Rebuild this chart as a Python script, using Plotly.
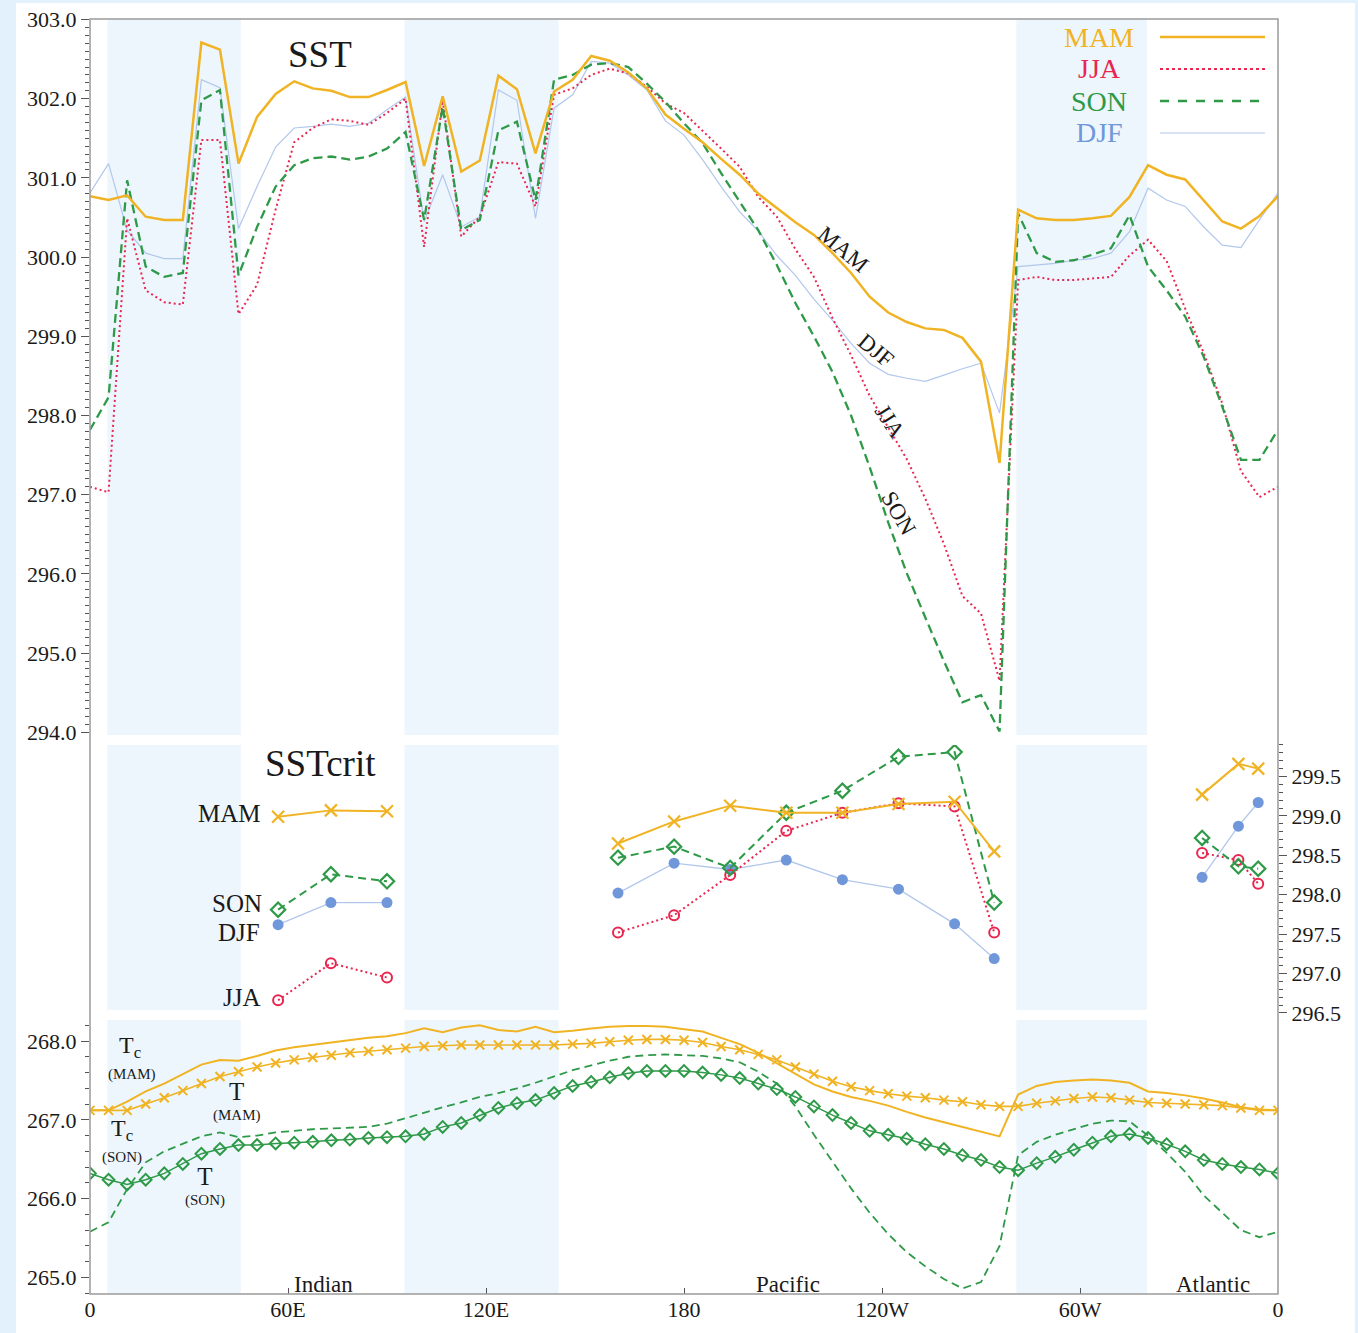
import plotly.graph_objects as go

# ---- longitude grid (degrees east, 0..360) ----
lon = [i * 5.625 for i in range(65)]

# ---- SST by season (K) ----
sst_mam = [300.77, 300.72, 300.78, 300.51, 300.47, 300.47, 302.71, 302.62, 301.18, 301.77,
           302.06, 302.22, 302.13, 302.10, 302.02, 302.02, 302.11, 302.21, 301.15, 302.03,
           301.08, 301.22, 302.29, 302.12, 301.31, 302.09, 302.24, 302.54, 302.48, 302.33,
           302.13, 301.80, 301.62, 301.45, 301.24, 301.04, 300.80, 300.62, 300.44, 300.28,
           300.05, 299.80, 299.50, 299.30, 299.18, 299.10, 299.08, 298.98, 298.68, 297.40,
           300.60, 300.49, 300.47, 300.47, 300.49, 300.52, 300.76, 301.16, 301.04, 300.98,
           300.72, 300.45, 300.36, 300.52, 300.77]
sst_jja = [297.10, 297.03, 300.49, 299.58, 299.43, 299.40, 301.48, 301.48, 299.28, 299.65,
           300.60, 301.45, 301.63, 301.74, 301.72, 301.67, 301.82, 302.00, 300.13, 301.98,
           300.26, 300.51, 301.20, 301.18, 300.64, 302.05, 302.13, 302.30, 302.38, 302.32,
           302.15, 301.94, 301.82, 301.60, 301.37, 301.14, 300.76, 300.51, 300.10, 299.75,
           299.23, 298.76, 298.25, 297.85, 297.45, 296.95, 296.38, 295.72, 295.50, 294.65,
           299.71, 299.75, 299.71, 299.71, 299.73, 299.75, 300.02, 300.22, 299.95, 299.35,
           298.79, 298.15, 297.30, 296.97, 297.10]
sst_son = [297.82, 298.23, 300.97, 299.88, 299.75, 299.80, 301.98, 302.11, 299.77, 300.38,
           300.89, 301.16, 301.25, 301.27, 301.23, 301.27, 301.37, 301.58, 300.47, 301.90,
           300.34, 300.47, 301.60, 301.71, 300.72, 302.24, 302.30, 302.43, 302.45, 302.40,
           302.19, 301.96, 301.69, 301.44, 301.06, 300.70, 300.34, 299.90, 299.42, 299.00,
           298.55, 298.00, 297.35, 296.65, 296.01, 295.45, 294.90, 294.38, 294.47, 294.01,
           300.55, 300.05, 299.94, 299.96, 300.03, 300.11, 300.53, 299.88, 299.58, 299.25,
           298.74, 298.11, 297.44, 297.44, 297.82]
sst_djf = [300.81, 301.18, 300.34, 300.05, 299.98, 299.98, 302.24, 302.14, 300.36, 300.89,
           301.39, 301.63, 301.65, 301.68, 301.65, 301.69, 301.86, 302.02, 300.45, 301.04,
           300.38, 300.51, 302.11, 301.98, 300.49, 301.88, 302.05, 302.47, 302.45, 302.30,
           302.11, 301.72, 301.54, 301.23, 300.89, 300.57, 300.33, 300.02, 299.77, 299.47,
           299.20, 298.91, 298.66, 298.52, 298.47, 298.43, 298.51, 298.59, 298.66, 298.03,
           299.88, 299.90, 299.92, 299.96, 299.98, 300.05, 300.32, 300.87, 300.72, 300.64,
           300.38, 300.15, 300.12, 300.47, 300.81]

# ---- critical SST at selected longitudes (K) ----
crit_lon_ind = [57, 73, 90]
crit_lon_pac = [160, 177, 194, 211, 228, 245, 262, 274]
crit_lon_atl = [337, 348, 354]

crit_mam_ind = [298.99, 299.07, 299.06]
crit_son_ind = [297.81, 298.26, 298.17]
crit_djf_ind = [297.62, 297.90, 297.90]
crit_jja_ind = [296.66, 297.13, 296.95]

crit_mam_pac = [298.65, 298.93, 299.13, 299.04, 299.04, 299.15, 299.18, 298.55]
crit_son_pac = [298.47, 298.61, 298.34, 299.04, 299.32, 299.75, 299.81, 297.90]
crit_djf_pac = [298.02, 298.40, 298.32, 298.44, 298.19, 298.07, 297.63, 297.19]
crit_jja_pac = [297.52, 297.74, 298.25, 298.81, 299.04, 299.16, 299.12, 297.52]

crit_mam_atl = [299.27, 299.66, 299.60]
crit_son_atl = [298.72, 298.36, 298.33]
crit_djf_atl = [298.22, 298.87, 299.17]
crit_jja_atl = [298.53, 298.44, 298.14]

# ---- temperature T and critical temperature Tc (K) ----
t_mam = [267.12, 267.12, 267.12, 267.20, 267.28, 267.37, 267.46, 267.55, 267.61, 267.67,
         267.72, 267.76, 267.79, 267.82, 267.85, 267.87, 267.89, 267.91, 267.93, 267.94,
         267.95, 267.95, 267.95, 267.95, 267.95, 267.95, 267.96, 267.97, 267.99, 268.01,
         268.02, 268.02, 268.01, 267.98, 267.93, 267.89, 267.83, 267.76, 267.67, 267.58,
         267.49, 267.42, 267.37, 267.33, 267.30, 267.28, 267.25, 267.23, 267.19, 267.17,
         267.17, 267.21, 267.24, 267.27, 267.29, 267.28, 267.25, 267.22, 267.21, 267.20,
         267.19, 267.18, 267.15, 267.12, 267.12]
tc_mam = [267.12, 267.12, 267.23, 267.36, 267.46, 267.58, 267.70, 267.76, 267.75, 267.81,
          267.88, 267.92, 267.95, 267.98, 268.01, 268.04, 268.06, 268.10, 268.16, 268.11,
          268.17, 268.20, 268.14, 268.12, 268.18, 268.11, 268.13, 268.16, 268.18, 268.19,
          268.19, 268.18, 268.15, 268.12, 268.04, 267.96, 267.85, 267.72, 267.58, 267.45,
          267.36, 267.29, 267.24, 267.18, 267.10, 267.03, 266.97, 266.91, 266.85, 266.79,
          267.32, 267.43, 267.48, 267.50, 267.51, 267.50, 267.47, 267.36, 267.34, 267.31,
          267.27, 267.22, 267.16, 267.13, 267.12]
t_son = [266.32, 266.24, 266.18, 266.24, 266.32, 266.44, 266.57, 266.63, 266.68, 266.68,
         266.70, 266.71, 266.72, 266.74, 266.75, 266.77, 266.78, 266.79, 266.82, 266.91,
         266.96, 267.06, 267.15, 267.21, 267.25, 267.34, 267.43, 267.48, 267.54, 267.59,
         267.62, 267.62, 267.62, 267.60, 267.57, 267.53, 267.46, 267.39, 267.29, 267.17,
         267.06, 266.96, 266.86, 266.81, 266.76, 266.69, 266.63, 266.55, 266.49, 266.40,
         266.36, 266.45, 266.53, 266.62, 266.71, 266.79, 266.82, 266.77, 266.69, 266.60,
         266.49, 266.44, 266.40, 266.37, 266.32]
tc_son = [265.58, 265.70, 266.12, 266.46, 266.60, 266.70, 266.79, 266.84, 266.78, 266.80,
          266.84, 266.86, 266.88, 266.89, 266.90, 266.91, 266.95, 267.02, 267.09, 267.16,
          267.22, 267.29, 267.34, 267.40, 267.47, 267.55, 267.63, 267.69, 267.75, 267.80,
          267.82, 267.83, 267.82, 267.81, 267.78, 267.73, 267.61, 267.46, 267.17, 266.81,
          266.47, 266.13, 265.82, 265.55, 265.32, 265.14, 264.98, 264.86, 264.94, 265.40,
          266.55, 266.72, 266.81, 266.88, 266.95, 266.99, 266.98, 266.80, 266.58, 266.34,
          266.04, 265.82, 265.60, 265.51, 265.58]

# ---- axis ticks ----
x_tickvals = [0, 60, 120, 180, 240, 300, 360]
x_ticktext = ["0", "60E", "120E", "180", "120W", "60W", "0"]
sst_ticks = [294, 295, 296, 297, 298, 299, 300, 301, 302, 303]
crit_ticks = [296.5, 297.0, 297.5, 298.0, 298.5, 299.0, 299.5]
t_ticks = [265, 266, 267, 268]

# shaded longitude bands
bands = [(5.25, 45.7), (95.3, 142.0), (280.7, 320.3)]

MAM_C = "#F0B323"
JJA_C = "#E8264F"
SON_C = "#2E9A48"
DJF_LINE = "#B2C7EC"
DJF_MARK = "#6F97D9"
SHADE = "#EEF6FD"
SERIF = "Liberation Serif"
INK = "#1A1A1A"

W, H = 1358, 1333
ML, MR, MT, MB = 90, 80, 19, 39
PW, PH = W - ML - MR, H - MT - MB


def fx(p):
    return (p - ML) / PW


def fy(p):
    return (H - MB - p) / PH


def joined(*parts):
    out = []
    for k, part in enumerate(parts):
        if k:
            out.append(None)
        out.extend(part)
    return out


fig = go.Figure()

# ---- top panel: SST ----
fig.add_trace(go.Scatter(x=lon, y=sst_djf, mode="lines", yaxis="y",
                         line=dict(color=DJF_LINE, width=1.2)))
fig.add_trace(go.Scatter(x=lon, y=sst_jja, mode="lines", yaxis="y",
                         line=dict(color=JJA_C, width=2, dash="2px,3px")))
fig.add_trace(go.Scatter(x=lon, y=sst_son, mode="lines", yaxis="y",
                         line=dict(color=SON_C, width=2.3, dash="9px,5px")))
fig.add_trace(go.Scatter(x=lon, y=sst_mam, mode="lines", yaxis="y",
                         line=dict(color=MAM_C, width=2.5)))

# ---- middle panel: critical SST ----
crit_x = joined(crit_lon_ind, crit_lon_pac, crit_lon_atl)
fig.add_trace(go.Scatter(x=crit_x, y=joined(crit_djf_ind, crit_djf_pac, crit_djf_atl),
                         mode="lines+markers", yaxis="y2", connectgaps=False,
                         line=dict(color=DJF_LINE, width=1.3),
                         marker=dict(symbol="circle", size=11, color=DJF_MARK)))
fig.add_trace(go.Scatter(x=crit_x, y=joined(crit_jja_ind, crit_jja_pac, crit_jja_atl),
                         mode="lines+markers", yaxis="y2", connectgaps=False,
                         line=dict(color=JJA_C, width=2, dash="2px,3px"),
                         marker=dict(symbol="circle-open", size=10, color=JJA_C,
                                     line=dict(width=2, color=JJA_C))))
fig.add_trace(go.Scatter(x=crit_x, y=joined(crit_son_ind, crit_son_pac, crit_son_atl),
                         mode="lines+markers", yaxis="y2", connectgaps=False,
                         line=dict(color=SON_C, width=2, dash="8px,5px"),
                         marker=dict(symbol="diamond-open", size=11, color=SON_C,
                                     line=dict(width=2.2, color=SON_C))))
fig.add_trace(go.Scatter(x=crit_x, y=joined(crit_mam_ind, crit_mam_pac, crit_mam_atl),
                         mode="lines+markers", yaxis="y2", connectgaps=False,
                         line=dict(color=MAM_C, width=2),
                         marker=dict(symbol="x-thin", size=12, color=MAM_C,
                                     line=dict(width=2.2, color=MAM_C))))

# ---- bottom panel: T and Tc ----
fig.add_trace(go.Scatter(x=lon, y=tc_son, mode="lines", yaxis="y3",
                         line=dict(color=SON_C, width=1.8, dash="8px,5px")))
fig.add_trace(go.Scatter(x=lon, y=t_son, mode="lines+markers", yaxis="y3",
                         line=dict(color=SON_C, width=1.5),
                         marker=dict(symbol="diamond-open", size=9, color=SON_C,
                                     line=dict(width=2, color=SON_C))))
fig.add_trace(go.Scatter(x=lon, y=tc_mam, mode="lines", yaxis="y3",
                         line=dict(color=MAM_C, width=2)))
fig.add_trace(go.Scatter(x=lon, y=t_mam, mode="lines+markers", yaxis="y3",
                         line=dict(color=MAM_C, width=1.6),
                         marker=dict(symbol="x-thin", size=9, color=MAM_C,
                                     line=dict(width=2, color=MAM_C))))

shapes = []
# white page card behind everything
shapes.append(dict(type="rect", xref="paper", yref="paper", layer="below",
                   x0=fx(16), x1=fx(1355), y0=fy(1333), y1=fy(3),
                   fillcolor="white", line=dict(width=0)))
# shaded bands, drawn separately in each panel
panel_spans = [(fy(735), fy(19)), (fy(1010), fy(745)), (fy(1294), fy(1020))]
for y0, y1 in panel_spans:
    for a, b in bands:
        shapes.append(dict(type="rect", xref="x", yref="paper", layer="below",
                           x0=a, x1=b, y0=y0, y1=y1,
                           fillcolor=SHADE, line=dict(width=0)))
# frame
shapes.append(dict(type="rect", xref="paper", yref="paper", layer="above",
                   x0=0, x1=1, y0=0, y1=1, line=dict(color="#9A9A9A", width=1.5)))

# season key in the upper right
key = [("MAM", MAM_C, "solid", 2.5, 37),
       ("JJA", JJA_C, "dot", 2, 69),
       ("SON", SON_C, "dash", 2.3, 101),
       ("DJF", DJF_MARK, "solid", 1.2, 133)]
annotations = []
for name, col, dash, wd, ypix in key:
    line_col = DJF_LINE if name == "DJF" else col
    shapes.append(dict(type="line", xref="paper", yref="paper", layer="above",
                       x0=fx(1160), x1=fx(1265), y0=fy(ypix), y1=fy(ypix),
                       line=dict(color=line_col, width=wd, dash=dash)))
    annotations.append(dict(text=name, x=fx(1099), y=fy(ypix), xref="paper", yref="paper",
                            showarrow=False, xanchor="center", yanchor="middle",
                            borderpad=0,
                            font=dict(family=SERIF, size=28, color=col)))


def label(text, xp, yp, size, xanchor="center", angle=0):
    annotations.append(dict(text=text, x=fx(xp), y=fy(yp), xref="paper", yref="paper",
                            showarrow=False, xanchor=xanchor, yanchor="middle",
                            textangle=angle, borderpad=0,
                            font=dict(family=SERIF, size=size, color=INK)))


# panel titles
label("SST", 320, 55, 37)
label("SSTcrit", 320, 763, 37)

# curve labels in the SST panel
label("MAM", 843, 250, 23, angle=40)
label("DJF", 876, 350, 23, angle=40)
label("JJA", 890, 421, 23, angle=57)
label("SON", 899, 513, 23, angle=60)

# season labels in the critical SST panel
label("MAM", 262, 813, 25, xanchor="right")
label("SON", 263, 903, 25, xanchor="right")
label("DJF", 261, 933, 25, xanchor="right")
label("JJA", 262, 997, 25, xanchor="right")

# labels in the temperature panel
big = "<span style='font-size:25px'>T</span>"
label("T<sub>c</sub>", 130, 1047, 24)
label("(MAM)", 132, 1074, 15)
label(big + "<br>(MAM)", 237, 1101, 15)
label("T<sub>c</sub>", 122, 1130, 24)
label("(SON)", 122, 1157, 15)
label(big + "<br>(SON)", 205, 1186, 15)

# ocean basin names
label("Indian", 323, 1284, 23)
label("Pacific", 788, 1284, 23)
label("Atlantic", 1213, 1284, 23)

tick_font = dict(family=SERIF, size=22, color=INK)
common_y = dict(anchor="x", showgrid=False, zeroline=False, showline=False,
                automargin=False,
                ticks="outside", ticklen=8, tickwidth=1.3, tickcolor="#555",
                tickfont=tick_font)

fig.update_layout(
    width=W, height=H,
    margin=dict(l=ML, r=MR, t=MT, b=MB, pad=0, autoexpand=False),
    paper_bgcolor="#E2F1FC",
    plot_bgcolor="rgba(0,0,0,0)",
    showlegend=False,
    hovermode=False,
    xaxis=dict(domain=[0, 1], range=[0, 360], anchor="y3", automargin=False,
               tickvals=x_tickvals, ticktext=x_ticktext,
               ticks="inside", ticklen=6, tickwidth=1.3, tickcolor="#555",
               showgrid=False, zeroline=False, showline=False, tickfont=tick_font),
    yaxis=dict(domain=[fy(735), 1], range=[303 - (735 - 19.5) / 79.2, 303 + 0.5 / 79.2],
               tickvals=sst_ticks, ticktext=[f"{v:.1f}" for v in sst_ticks],
               minor=dict(dtick=0.1, tick0=294, ticks="outside", ticklen=4,
                          tickcolor="#555", showgrid=False),
               **common_y),
    yaxis2=dict(domain=[fy(1016), fy(745)],
                range=[299.5 - (1016 - 776.5) / 78.8, 299.5 + (776.5 - 745) / 78.8],
                side="right",
                tickvals=crit_ticks, ticktext=[f"{v:.1f}" for v in crit_ticks],
                minor=dict(dtick=0.1, tick0=296.5, ticks="outside", ticklen=4,
                           tickcolor="#555", showgrid=False),
                **common_y),
    yaxis3=dict(domain=[0, fy(1020)],
                range=[268 - (1294 - 1041) / 78.8, 268 + (1041 - 1020) / 78.8],
                tickvals=t_ticks, ticktext=[f"{v:.1f}" for v in t_ticks],
                minor=dict(dtick=0.2, tick0=265, ticks="outside", ticklen=4,
                           tickcolor="#555", showgrid=False),
                **common_y),
    shapes=shapes,
    annotations=annotations,
)

fig.write_html("out.html")
